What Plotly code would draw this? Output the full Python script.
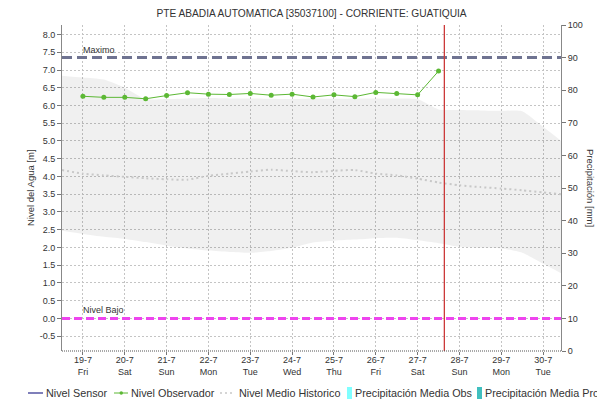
import pandas as pd
import plotly.graph_objects as go

TITLE = "PTE ABADIA AUTOMATICA [35037100] - CORRIENTE: GUATIQUIA"

# Observer readings, twice a day (m)
obs_time = pd.date_range("2019-07-19 00:00", periods=18, freq="12h")
obs_level = [6.26, 6.23, 6.23, 6.19, 6.28, 6.36, 6.32, 6.31, 6.34,
             6.29, 6.32, 6.24, 6.30, 6.25, 6.37, 6.34, 6.30, 6.97]

# Historical statistics, every 12 h (m)
hist_time = pd.date_range("2019-07-18 12:00", periods=25, freq="12h")
hist_mean = [4.18, 4.08, 4.03, 3.99, 3.95, 3.92, 3.91, 4.02, 4.08, 4.14,
             4.19, 4.15, 4.12, 4.16, 4.18, 4.08, 4.03, 3.94, 3.83, 3.75,
             3.70, 3.66, 3.61, 3.55, 3.49]
hist_upper = [6.84, 6.79, 6.73, 6.50, 6.18, 6.18, 6.20, 6.21, 6.20, 6.20,
              6.19, 6.18, 6.20, 6.19, 6.20, 6.20, 6.20, 6.18, 5.89, 5.87,
              5.86, 5.85, 5.84, 5.40, 4.94]
hist_lower = [2.47, 2.38, 2.30, 2.24, 2.15, 2.05, 1.97, 1.91, 1.87, 1.85,
              1.90, 1.99, 2.14, 2.19, 2.22, 2.26, 2.27, 2.20, 2.12, 2.02,
              1.99, 1.97, 1.85, 1.54, 1.23]

NIVEL_MAXIMO = 7.35
NIVEL_BAJO = 0.0
NOW = "2019-07-27 15:20"

day_ticks = pd.date_range("2019-07-19", periods=12, freq="D")
day_labels = ["19-7", "20-7", "21-7", "22-7", "23-7", "24-7",
              "25-7", "26-7", "27-7", "28-7", "29-7", "30-7"]
weekday_labels = ["Fri", "Sat", "Sun", "Mon", "Tue", "Wed",
                  "Thu", "Fri", "Sat", "Sun", "Mon", "Tue"]
level_ticks = [-0.5, 0.0, 0.5, 1.0, 1.5, 2.0, 2.5, 3.0, 3.5, 4.0,
               4.5, 5.0, 5.5, 6.0, 6.5, 7.0, 7.5, 8.0]
precip_ticks = [0, 10, 20, 30, 40, 50, 60, 70, 80, 90, 100]

legend_items = ["Nivel Sensor", "Nivel Observador", "Nivel Medio Historico",
                "Precipitación Media Obs", "Precipitación Media Pronostico"]

FONT = "Liberation Sans, Arial, sans-serif"
TXT = "#333333"
GRID = "#c4c4c4"
W, H = 597, 403
PL, PR, PT, PB = 62, 561, 25, 351


def px(x):
    return (x - PL) / (PR - PL)


def py(y):
    return (PB - y) / (PB - PT)


fig = go.Figure()

# historical range band
fig.add_trace(go.Scatter(x=hist_time, y=hist_lower, mode="lines",
                         line=dict(width=0, shape="spline", smoothing=0.6),
                         hoverinfo="skip", showlegend=False))
fig.add_trace(go.Scatter(x=hist_time, y=hist_upper, mode="lines", fill="tonexty",
                         fillcolor="rgba(0,0,0,0.06)",
                         line=dict(width=0, shape="spline", smoothing=0.6),
                         hoverinfo="skip", showlegend=False))
# historical mean
fig.add_trace(go.Scatter(x=hist_time, y=hist_mean, mode="lines",
                         line=dict(color="#c8c8c8", width=2, dash="2px,3px",
                                   shape="spline", smoothing=0.6),
                         name=legend_items[2], showlegend=False))
# observer readings
fig.add_trace(go.Scatter(x=obs_time, y=obs_level, mode="lines+markers",
                         line=dict(color="#5cb834", width=1),
                         marker=dict(color="#5cb834", size=5),
                         name=legend_items[1], showlegend=False))
# empty precipitation axis
fig.add_trace(go.Scatter(x=[], y=[], yaxis="y2", showlegend=False))

shapes = [
    dict(type="line", xref="paper", yref="y", x0=0, x1=1,
         y0=NIVEL_MAXIMO, y1=NIVEL_MAXIMO,
         line=dict(color="#6f7391", width=3, dash="10px,5px")),
    dict(type="line", xref="paper", yref="y", x0=0, x1=1,
         y0=NIVEL_BAJO, y1=NIVEL_BAJO,
         line=dict(color="#ee44ee", width=3, dash="8px,4px")),
    dict(type="line", xref="x", yref="paper", x0=NOW, x1=NOW, y0=0, y1=1,
         line=dict(color="#cc3a3a", width=1.3)),
    # bottom frame
    dict(type="line", xref="paper", yref="paper", x0=0, x1=1, y0=0, y1=0,
         line=dict(color="#555555", width=1.2, dash="1px,1px")),
]

annotations = [
    dict(text="Maximo", xref="paper", yref="y", x=px(81), y=NIVEL_MAXIMO,
         xanchor="left", yanchor="bottom", showarrow=False, yshift=1,
         font=dict(family=FONT, size=9, color=TXT)),
    dict(text="Nivel Bajo", xref="paper", yref="y", x=px(81), y=NIVEL_BAJO,
         xanchor="left", yanchor="bottom", showarrow=False, yshift=1,
         font=dict(family=FONT, size=9, color=TXT)),
    dict(text="Nivel del Agua [m]", xref="paper", yref="paper", x=px(30), y=0.5,
         textangle=-90, showarrow=False, xanchor="center", yanchor="middle",
         font=dict(family=FONT, size=9.5, color=TXT)),
    dict(text="Precipitación [mm]", xref="paper", yref="paper", x=px(591), y=0.5,
         textangle=90, showarrow=False, xanchor="center", yanchor="middle",
         font=dict(family=FONT, size=9.5, color=TXT)),
]

# legend row
LY = py(393)
lf = dict(family=FONT, size=10.8, color=TXT)
shapes += [
    dict(type="line", xref="paper", yref="paper", x0=px(28), x1=px(43), y0=LY, y1=LY,
         line=dict(color="#2b2b8c", width=1.2)),
    dict(type="line", xref="paper", yref="paper", x0=px(114), x1=px(128), y0=LY, y1=LY,
         line=dict(color="#5cb834", width=1)),
    dict(type="circle", xref="paper", yref="paper", x0=px(119.5), x1=px(123), y0=py(394.8), y1=py(391.2),
         fillcolor="#5cb834", line=dict(width=0)),
    dict(type="line", xref="paper", yref="paper", x0=px(220), x1=px(235), y0=LY, y1=LY,
         line=dict(color="#c8c8c8", width=1.5, dash="2px,3px")),
    dict(type="rect", xref="paper", yref="paper", x0=px(347), x1=px(352), y0=py(399), y1=py(387),
         fillcolor="#80ffff", line=dict(width=0)),
    dict(type="rect", xref="paper", yref="paper", x0=px(477), x1=px(482), y0=py(399), y1=py(387),
         fillcolor="#40bfbf", line=dict(width=0)),
]
for xpos, label in zip([44, 129, 237, 353, 483], legend_items):
    annotations.append(dict(text=label, xref="paper", yref="paper", x=px(xpos), y=LY,
                            xanchor="left", yanchor="middle", showarrow=False,
                            font=lf))

fig.update_layout(
    width=W, height=H,
    margin=dict(l=PL, r=W - PR, t=PT, b=H - PB),
    paper_bgcolor="white", plot_bgcolor="white",
    showlegend=False,
    title=dict(text=TITLE, x=px((PL + PR) / 2), xref="paper", xanchor="center",
               y=1 - 13 / H, yref="container", yanchor="middle",
               font=dict(family=FONT, size=10.2, color=TXT)),
    xaxis=dict(type="date", range=["2019-07-18 12:00", "2019-07-30 10:15"],
               tickvals=day_ticks,
               ticktext=[f"{d}<br>{w}" for d, w in zip(day_labels, weekday_labels)],
               ticks="outside", ticklen=3, tickcolor="#777777",
               ticklabelstandoff=-3,
               showgrid=True, gridcolor=GRID, griddash="2px,2px", gridwidth=1,
               showline=False, zeroline=False,
               tickfont=dict(family=FONT, size=9, color=TXT)),
    yaxis=dict(range=[-0.919, 8.269], tickvals=level_ticks,
               ticktext=[f"{v:.1f}" for v in level_ticks],
               ticks="outside", ticklen=4, tickcolor="#777777",
               showgrid=True, gridcolor=GRID, griddash="2px,2px", gridwidth=1,
               showline=True, linecolor="#888888", linewidth=1, zeroline=False,
               tickfont=dict(family=FONT, size=9, color=TXT)),
    yaxis2=dict(range=[0, 100], overlaying="y", side="right",
                tickvals=precip_ticks, ticktext=[str(v) for v in precip_ticks],
                ticks="outside", ticklen=4, tickcolor="#777777",
                showgrid=False, showline=True, linecolor="#888888", linewidth=1,
                zeroline=False, tickfont=dict(family=FONT, size=9, color=TXT)),
    shapes=shapes,
    annotations=annotations,
)

fig.write_html("out.html")
